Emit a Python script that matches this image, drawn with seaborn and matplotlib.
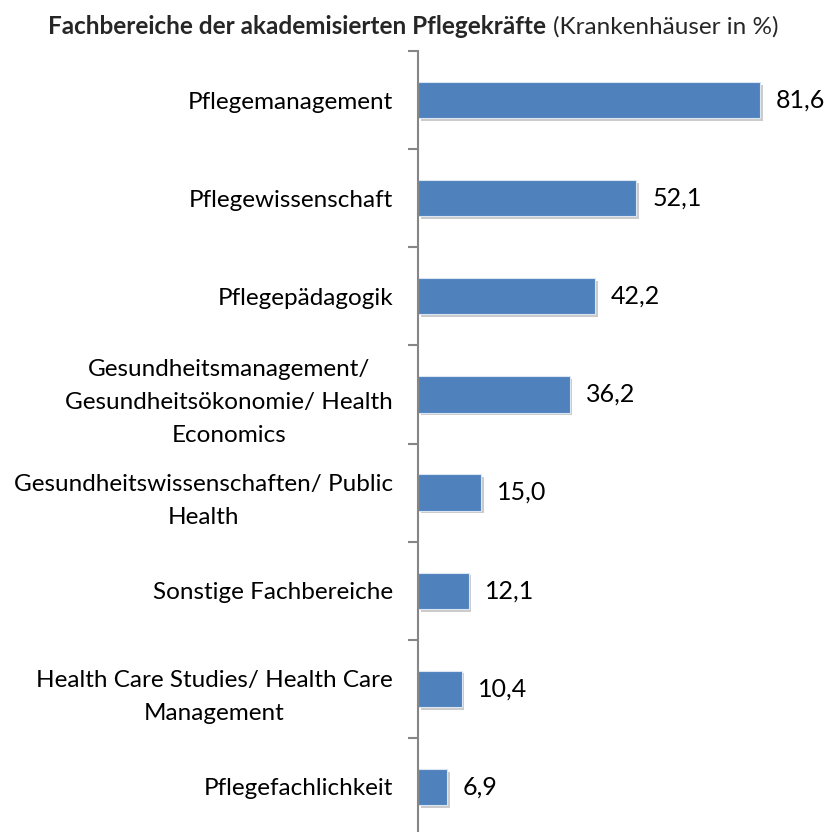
import matplotlib
matplotlib.use('Agg')
import matplotlib.pyplot as plt
import matplotlib.patheffects as pe
import seaborn as sns
import pandas as pd

categories = [
    'Pflegemanagement',
    'Pflegewissenschaft',
    'Pflegepädagogik',
    'Gesundheitsmanagement/\nGesundheitsökonomie/ Health\nEconomics',
    'Gesundheitswissenschaften/ Public\nHealth',
    'Sonstige Fachbereiche',
    'Health Care Studies/ Health Care\nManagement',
    'Pflegefachlichkeit',
]
values = [81.6, 52.1, 42.2, 36.2, 15.0, 12.1, 10.4, 6.9]
value_labels = ['81,6', '52,1', '42,2', '36,2', '15,0', '12,1', '10,4', '6,9']

df = pd.DataFrame({'kategorie': categories, 'wert': values})

sns.set_style('white')
plt.rcParams['font.family'] = ['Lato', 'DejaVu Sans']

fig = plt.figure(figsize=(8.26, 8.32), dpi=100)
ax = fig.add_axes([418/826, -4/832, 398/826, 785/832])

sns.barplot(data=df, y='kategorie', x='wert', orient='h', color='#4F81BD',
            saturation=1, width=0.37, ax=ax)

# Schatten wie in Excel
for bar in ax.patches:
    bar.set_edgecolor('#dce6f2')
    bar.set_linewidth(0.8)
    bar.set_path_effects([pe.SimplePatchShadow(offset=(2, -2), shadow_rgbFace='#999999', alpha=0.5),
                          pe.Normal()])

ax.set_xlim(0, 95)
ax.set_ylim(7.5, -0.5)
ax.set_xlabel('')
ax.set_ylabel('')
ax.set_xticks([])

for sp in ['top', 'right', 'bottom']:
    ax.spines[sp].set_visible(False)
ax.spines['left'].set_color('#868686')
ax.spines['left'].set_linewidth(1.5)

ax.tick_params(axis='y', which='major', left=False, length=0, pad=18, labelsize=17.5)
ax.set_yticks([i - 0.5 for i in range(len(categories) + 1)], minor=True)
ax.tick_params(axis='y', which='minor', left=True, length=7, width=1.5,
               color='#868686', direction='out')
for lab in ax.get_yticklabels():
    lab.set_multialignment('center')
    lab.set_linespacing(1.72)
    lab.set_color('black')

for i, (v, t) in enumerate(zip(values, value_labels)):
    ax.text(v + 3.8, i, t, va='center', ha='left', fontsize=18, color='black')

fig.text(546/826, 1 - 27/832, 'Fachbereiche der akademisierten Pflegekräfte',
         ha='right', va='center', fontsize=17.5, fontweight='bold')
fig.text(553/826, 1 - 27/832, '(Krankenhäuser in %)',
         ha='left', va='center', fontsize=17.5)

plt.savefig('out.png', dpi=100)
